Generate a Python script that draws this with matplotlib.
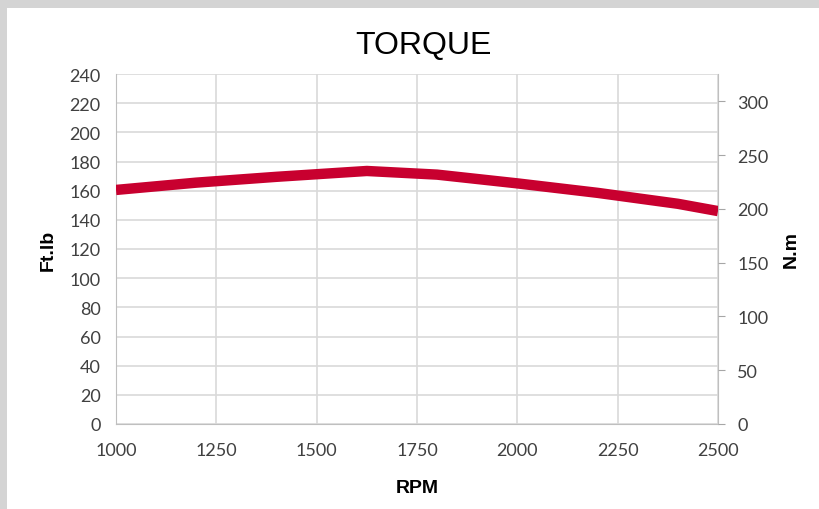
import matplotlib
matplotlib.use('Agg')
import matplotlib.pyplot as plt
from matplotlib.patches import Rectangle
import numpy as np

rpm = [1000, 1200, 1400, 1625, 1800, 2000, 2200, 2400, 2500]
torque_ftlb = [160.5, 165.5, 169.5, 173.5, 171.0, 165.0, 158.5, 151.0, 146.0]

ftlb_ticks = list(range(0, 241, 20))
nm_ticks = list(range(0, 301, 50))
rpm_ticks = [1000, 1250, 1500, 1750, 2000, 2250, 2500]
NM_PER_FTLB = 1.3558

plt.rcParams['font.family'] = ['Lato', 'DejaVu Sans']

fig = plt.figure(figsize=(8.2, 5.1), dpi=100, facecolor='#d4d4d4')
fig.patches.append(Rectangle((7 / 820, 0), 1 - 7 / 820, 1 - 9 / 510,
                             transform=fig.transFigure, facecolor='white',
                             edgecolor='none', zorder=-10))

ax = fig.add_axes([116 / 820, 85 / 510, 602 / 820, 350 / 510])
ax.set_facecolor('white')
ax.plot(rpm, torque_ftlb, color='#c8002f', lw=7.5, solid_capstyle='butt', zorder=3)

ax.set_xlim(1000, 2500)
ax.set_ylim(0, 240)
ax.set_xticks(rpm_ticks)
ax.set_yticks(ftlb_ticks)
ax.grid(True, color='#d9d9d9', lw=1.2)
ax.tick_params(axis='both', length=0, labelsize=13, labelcolor='#404040')
ax.tick_params(axis='x', pad=13)
ax.tick_params(axis='y', pad=11)
for s in ['left', 'bottom', 'right']:
    ax.spines[s].set_color('#bfbfbf')
ax.spines['top'].set_visible(False)

ax2 = ax.twinx()
ax2.set_ylim(0, 240 * NM_PER_FTLB)
ax2.set_yticks(nm_ticks)
ax2.tick_params(axis='y', length=5, color='#a6a6a6', labelsize=13,
                labelcolor='#404040', pad=9)
for s in ax2.spines.values():
    s.set_visible(False)

ax.set_xlabel('RPM', fontsize=14, fontweight='bold', family=['Liberation Sans', 'DejaVu Sans'], labelpad=15)
ax.set_ylabel('Ft.lb', fontsize=14, fontweight='bold', family=['Liberation Sans', 'DejaVu Sans'], labelpad=9)
ax2.set_ylabel('N.m', fontsize=14, fontweight='bold', family=['Liberation Sans', 'DejaVu Sans'], labelpad=10)

fig.text(423 / 820, 1 - 46 / 510, 'TORQUE', ha='center', va='center', fontsize=23,
         family=['Liberation Sans Narrow', 'Liberation Sans', 'DejaVu Sans'])

fig.savefig('out.png', dpi=100, facecolor=fig.get_facecolor())
